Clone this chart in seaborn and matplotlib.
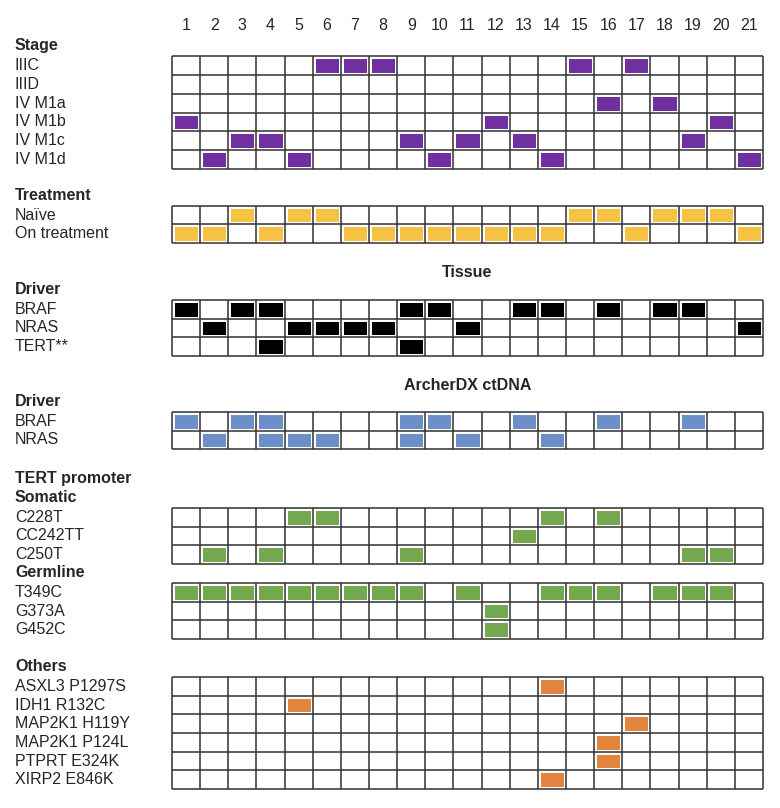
import matplotlib
matplotlib.use("Agg")
import matplotlib.pyplot as plt
import matplotlib.transforms as mtransforms
from matplotlib.colors import ListedColormap
import numpy as np
import pandas as pd
import seaborn as sns

# patients 1..21
patients = list(range(1, 22))

# each row: label -> list of patient numbers that carry it
stage_rows = ["IIIC", "IIID", "IV M1a", "IV M1b", "IV M1c", "IV M1d"]
stage_hits = [[6, 7, 8, 15, 17], [], [16, 18], [1, 12, 20],
              [3, 4, 9, 11, 13, 19], [2, 5, 10, 14, 21]]

treat_rows = ["Naïve", "On treatment"]
treat_hits = [[3, 5, 6, 15, 16, 18, 19, 20],
              [1, 2, 4, 7, 8, 9, 10, 11, 12, 13, 14, 17, 21]]

tissue_rows = ["BRAF", "NRAS", "TERT**"]
tissue_hits = [[1, 3, 4, 9, 10, 13, 14, 16, 18, 19],
               [2, 5, 6, 7, 8, 11, 21],
               [4, 9]]

ctdna_rows = ["BRAF", "NRAS"]
ctdna_hits = [[1, 3, 4, 9, 10, 13, 16, 19],
              [2, 4, 5, 6, 9, 11, 14]]

somatic_rows = ["C228T", "CC242TT", "C250T"]
somatic_hits = [[5, 6, 14, 16], [13], [2, 4, 9, 19, 20]]

germline_rows = ["T349C", "G373A", "G452C"]
germline_hits = [[1, 2, 3, 4, 5, 6, 7, 8, 9, 11, 14, 15, 16, 18, 19, 20],
                 [12], [12]]

others_rows = ["ASXL3 P1297S", "IDH1 R132C", "MAP2K1 H119Y",
               "MAP2K1 P124L", "PTPRT E324K", "XIRP2 E846K"]
others_hits = [[14], [5], [17], [16], [16], [14]]

W, H = 780, 808
GRID_L, GRID_R = 172, 763
LABEL_X = 15
FS = 11.5

sns.set_theme(style="white")
plt.rcParams['font.family'] = ['Liberation Sans', 'DejaVu Sans']

fig = plt.figure(figsize=(W / 100, H / 100), dpi=100)


def to_frame(rows, hits):
    mat = np.zeros((len(rows), len(patients)))
    for i, h in enumerate(hits):
        for p in h:
            mat[i, patients.index(p)] = 1
    return pd.DataFrame(mat, index=rows, columns=patients)


def draw_group(rows, hits, color, top, bottom, header=None, header2=None):
    ax = fig.add_axes([GRID_L / W, 1 - bottom / H,
                       (GRID_R - GRID_L) / W, (bottom - top) / H])
    df = to_frame(rows, hits)
    # white cell edges give the inset look of the filled boxes
    sns.heatmap(df, cmap=ListedColormap(["white", color]), vmin=0, vmax=1,
                cbar=False, linewidths=2.5, linecolor="white",
                xticklabels=False, yticklabels=False, ax=ax)
    n = len(rows)
    ax.hlines(range(n + 1), 0, len(patients), color="#303030", lw=1.1, clip_on=False)
    ax.vlines(range(len(patients) + 1), 0, n, color="#303030", lw=1.1, clip_on=False)
    ax.set_xlabel("")
    ax.set_ylabel("")
    trans = mtransforms.blended_transform_factory(fig.transFigure, ax.transData)
    for i, r in enumerate(rows):
        ax.text(LABEL_X / W, i + 0.5, r, transform=trans, ha="left",
                va="center", fontsize=FS, clip_on=False)
    if header:
        ax.text(LABEL_X / W, -0.55, header, transform=trans, ha="left",
                va="center", fontsize=FS, fontweight="bold", clip_on=False)
    if header2:
        ax.text(LABEL_X / W, -1.6, header2, transform=trans, ha="left",
                va="center", fontsize=FS, fontweight="bold", clip_on=False)
    return ax


ax_stage = draw_group(stage_rows, stage_hits, "#7030A0", 56, 169, "Stage")
for j, p in enumerate(patients):
    ax_stage.text(j + 0.5, -1.6, str(p), ha="center", va="center",
                  fontsize=FS, clip_on=False)

draw_group(treat_rows, treat_hits, "#F6C243", 206, 243, "Treatment")
draw_group(tissue_rows, tissue_hits, "#000000", 300, 356, "Driver")
draw_group(ctdna_rows, ctdna_hits, "#6C8FC9", 412, 449, "Driver")
draw_group(somatic_rows, somatic_hits, "#74A94F", 508, 564, "Somatic", "TERT promoter")
draw_group(germline_rows, germline_hits, "#74A94F", 583, 639, "Germline")
draw_group(others_rows, others_hits, "#E3843F", 677, 789, "Others")

mid = (GRID_L + GRID_R) / 2 / W
fig.text(mid, 1 - 272 / H, "Tissue", ha="center", va="center",
         fontsize=FS, fontweight="bold")
fig.text(mid, 1 - 385 / H, "ArcherDX ctDNA", ha="center", va="center",
         fontsize=FS, fontweight="bold")

fig.savefig("out.png", dpi=100)
